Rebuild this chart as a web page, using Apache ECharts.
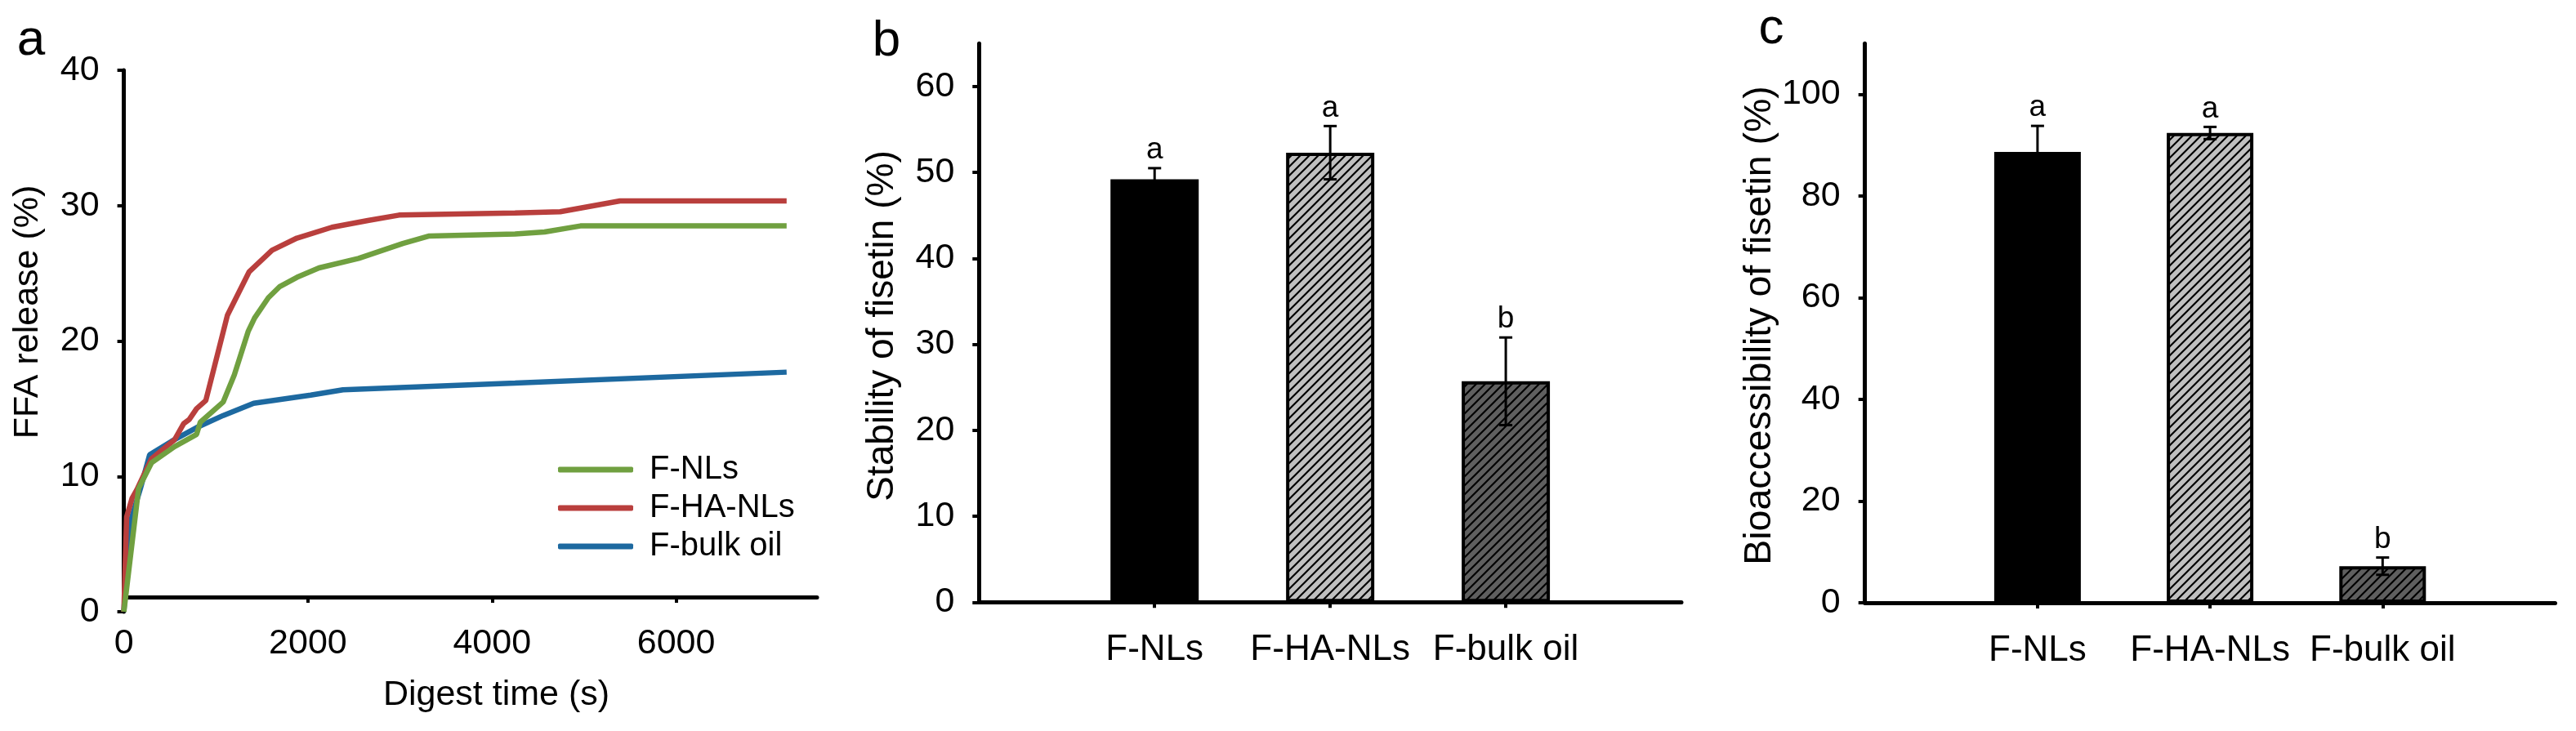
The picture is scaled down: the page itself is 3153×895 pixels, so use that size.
<!DOCTYPE html>
<html><head><meta charset="utf-8">
<script src="https://cdn.jsdelivr.net/npm/echarts@6/dist/echarts.min.js"></script>
<style>html,body{margin:0;padding:0;background:#fff}#c{width:3153px;height:895px}</style>
</head><body><div id="c"></div>
<script>
// ---------- Panel a: FFA release over digestion time ----------
const nlTime   = [0, 160, 300, 550, 790, 830, 1080, 1200, 1350, 1420, 1570, 1690, 1880, 2120, 2550, 3030, 3310, 4250, 4570, 4960, 7200];
const nlFFA    = [0, 9.1, 11.0, 12.2, 13.1, 14.0, 15.5, 17.5, 20.7, 21.7, 23.2, 24.0, 24.7, 25.4, 26.1, 27.2, 27.75, 27.9, 28.05, 28.5, 28.5];
const haTime   = [0, 30, 90, 140, 300, 550, 650, 710, 790, 890, 1125, 1360, 1610, 1880, 2260, 2650, 2990, 4250, 4740, 5390, 7200];
const haFFA    = [0, 7.0, 8.4, 9.0, 11.3, 12.7, 13.9, 14.2, 15.0, 15.6, 21.9, 25.1, 26.7, 27.6, 28.4, 28.9, 29.3, 29.45, 29.55, 30.35, 30.35];
const bulkTime = [0, 60, 180, 280, 520, 790, 1080, 1410, 2030, 2380, 4250, 7200];
const bulkFFA  = [0, 6.4, 9.1, 11.6, 12.6, 13.6, 14.5, 15.4, 16.0, 16.4, 16.9, 17.7];
const xTicksA = [0, 2000, 4000, 6000];
const yTicksA = [0, 10, 20, 30, 40];

// ---------- Panels b and c ----------
const categories = ['F-NLs', 'F-HA-NLs', 'F-bulk oil'];
const stability = [49.2, 52.3, 25.7];
const stabilityErr = [1.3, 3.1, 5.1];
const stabilityLetters = ['a', 'a', 'b'];
const yTicksB = [0, 10, 20, 30, 40, 50, 60];
const bioacc = [88.7, 92.4, 7.2];
const bioaccErr = [5.1, 1.2, 1.7];
const bioaccLetters = ['a', 'a', 'b'];
const yTicksC = [0, 20, 40, 60, 80, 100];

const FONT = '"Liberation Sans", Arial, sans-serif';

function hatch(bg) {
  const s = 11, c = document.createElement('canvas');
  c.width = s; c.height = s;
  const g = c.getContext('2d');
  g.fillStyle = bg; g.fillRect(0, 0, s, s);
  g.strokeStyle = '#000'; g.lineWidth = 2.2;
  g.beginPath();
  g.moveTo(-1, s + 1); g.lineTo(s + 1, -1);
  g.moveTo(-2, 2); g.lineTo(2, -2);
  g.moveTo(s - 2, s + 2); g.lineTo(s + 2, s - 2);
  g.stroke();
  return c;
}
const barStyles = [
  { color: '#000', borderColor: '#000', borderWidth: 4 },
  { color: { image: hatch('#C0C0C0'), repeat: 'repeat' }, borderColor: '#000', borderWidth: 4 },
  { color: { image: hatch('#5F5F5F'), repeat: 'repeat' }, borderColor: '#000', borderWidth: 4 }
];

const zip = (a, b) => a.map((v, i) => [v, b[i]]);
const catAxisData = [''].concat(categories, ['']);

function barData(vals) {
  return ['-'].concat(vals.map((v, i) => ({ value: v, itemStyle: barStyles[i] })), ['-']);
}
function errData(vals, errs) {
  return vals.map((v, i) => [i + 1, v, errs[i]]);
}
function errRender(letters) {
  return function (params, api) {
    const x = api.value(0), v = api.value(1), e = api.value(2);
    const top = api.coord([x, v + e]);
    const bot = api.coord([x, v - e]);
    const hw = 8;
    const ls = { stroke: '#000', lineWidth: 3 };
    return {
      type: 'group',
      children: [
        { type: 'line', shape: { x1: top[0], y1: top[1], x2: bot[0], y2: bot[1] }, style: ls },
        { type: 'line', shape: { x1: top[0] - hw, y1: top[1], x2: top[0] + hw, y2: top[1] }, style: ls },
        { type: 'line', shape: { x1: bot[0] - hw, y1: bot[1], x2: bot[0] + hw, y2: bot[1] }, style: ls },
        { type: 'text', x: top[0], y: top[1] - 22,
          style: { text: letters[params.dataIndex], align: 'center', verticalAlign: 'middle',
                   fontSize: 37, fontFamily: FONT, fill: '#000' } }
      ]
    };
  };
}

const axisLineStyle = { color: '#000', width: 5 };
const tickStyle = { color: '#000', width: 4 };
const lblBase = { color: '#000', fontFamily: FONT };

function catXAxis(gi) {
  return {
    gridIndex: gi, type: 'category', data: catAxisData, boundaryGap: false,
    axisLine: { show: true, lineStyle: axisLineStyle },
    axisTick: { show: true, length: 7, lineStyle: tickStyle, interval: (i, v) => v !== '' },
    axisLabel: Object.assign({ interval: 0, margin: 37, fontSize: 44 }, lblBase),
    splitLine: { show: false }
  };
}
function valYAxis(gi, max, interval, ticks) {
  return {
    gridIndex: gi, type: 'value', min: 0, max: max, interval: interval,
    axisLine: { show: true, lineStyle: axisLineStyle },
    axisTick: { show: true, length: 8, lineStyle: tickStyle, customValues: ticks },
    axisLabel: Object.assign({ margin: 30, fontSize: 43, customValues: ticks,
      formatter: v => String(v) }, lblBase),
    splitLine: { show: false }
  };
}

const option = {
  animation: false,
  backgroundColor: '#fff',
  textStyle: { fontFamily: FONT },
  grid: [
    { left: 151.6, top: 86, width: 848.4, height: 663 },
    { left: 1198.3, top: 53.3, width: 859.7, height: 684 },
    { left: 2282.7, top: 53.3, width: 844.8, height: 684.7 }
  ],
  xAxis: [
    {
      gridIndex: 0, type: 'value', min: 0, max: 7530, interval: 2000, offset: -18,
      axisLine: { show: true, onZero: false, lineStyle: axisLineStyle },
      axisTick: { show: true, length: 7, lineStyle: tickStyle, customValues: xTicksA },
      axisLabel: Object.assign({ margin: 36, fontSize: 43, customValues: xTicksA,
        formatter: v => String(v) }, lblBase),
      splitLine: { show: false }
    },
    catXAxis(1),
    catXAxis(2)
  ],
  yAxis: [
    {
      gridIndex: 0, type: 'value', min: 0, max: 40, interval: 10,
      axisLine: { show: true, onZero: false, lineStyle: axisLineStyle },
      axisTick: { show: true, length: 8, lineStyle: tickStyle, customValues: yTicksA },
      axisLabel: Object.assign({ margin: 30, fontSize: 43, customValues: yTicksA,
        formatter: v => String(v) }, lblBase),
      splitLine: { show: false }
    },
    valYAxis(1, 65, 10, yTicksB),
    valYAxis(2, 110, 20, yTicksC)
  ],
  legend: {
    data: ['F-NLs', 'F-HA-NLs', 'F-bulk oil'],
    orient: 'vertical', left: 678, top: 550,
    itemWidth: 92, itemHeight: 7, itemGap: 7, icon: 'roundRect',
    textStyle: { fontSize: 40, lineHeight: 40, color: '#000', fontFamily: FONT, padding: [0, 0, 0, 15] }
  },
  graphic: [
    { type: 'text', x: 38, y: 50, style: { text: 'a', fontSize: 62, fontFamily: FONT, fill: '#000', align: 'center', verticalAlign: 'middle' } },
    { type: 'text', x: 1085, y: 51, style: { text: 'b', fontSize: 62, fontFamily: FONT, fill: '#000', align: 'center', verticalAlign: 'middle' } },
    { type: 'text', x: 2168, y: 36, style: { text: 'c', fontSize: 62, fontFamily: FONT, fill: '#000', align: 'center', verticalAlign: 'middle' } },
    { type: 'text', x: 34, y: 382, rotation: Math.PI / 2, style: { text: 'FFA release (%)', fontSize: 43, fontFamily: FONT, fill: '#000', align: 'center', verticalAlign: 'middle' } },
    { type: 'text', x: 607.5, y: 851, style: { text: 'Digest time (s)', fontSize: 43, fontFamily: FONT, fill: '#000', align: 'center', verticalAlign: 'middle' } },
    { type: 'text', x: 1080, y: 399, rotation: Math.PI / 2, style: { text: 'Stability of fisetin (%)', fontSize: 46, fontFamily: FONT, fill: '#000', align: 'center', verticalAlign: 'middle' } },
    { type: 'text', x: 2154, y: 398.5, rotation: Math.PI / 2, style: { text: 'Bioaccessibility of fisetin (%)', fontSize: 46.5, fontFamily: FONT, fill: '#000', align: 'center', verticalAlign: 'middle' } }
  ],
  series: [
    { name: 'F-bulk oil', type: 'line', xAxisIndex: 0, yAxisIndex: 0, data: zip(bulkTime, bulkFFA),
      showSymbol: false, symbol: 'none', clip: false, z: 2,
      lineStyle: { width: 6.5, color: '#1D69A0' }, itemStyle: { color: '#1D69A0' } },
    { name: 'F-HA-NLs', type: 'line', xAxisIndex: 0, yAxisIndex: 0, data: zip(haTime, haFFA),
      showSymbol: false, symbol: 'none', clip: false, z: 3,
      lineStyle: { width: 6.5, color: '#B93F3D' }, itemStyle: { color: '#B93F3D' } },
    { name: 'F-NLs', type: 'line', xAxisIndex: 0, yAxisIndex: 0, data: zip(nlTime, nlFFA),
      showSymbol: false, symbol: 'none', clip: false, z: 4,
      lineStyle: { width: 6.5, color: '#70A040' }, itemStyle: { color: '#70A040' } },

    { type: 'bar', xAxisIndex: 1, yAxisIndex: 1, data: barData(stability), barWidth: 108 },
    { type: 'custom', xAxisIndex: 1, yAxisIndex: 1, data: errData(stability, stabilityErr),
      renderItem: errRender(stabilityLetters), z: 10 },

    { type: 'bar', xAxisIndex: 2, yAxisIndex: 2, data: barData(bioacc), barWidth: 106 },
    { type: 'custom', xAxisIndex: 2, yAxisIndex: 2, data: errData(bioacc, bioaccErr),
      renderItem: errRender(bioaccLetters), z: 10 }
  ]
};

const chart = echarts.init(document.getElementById('c'), null, { renderer: 'canvas' });
chart.setOption(option);
</script>
</body></html>
